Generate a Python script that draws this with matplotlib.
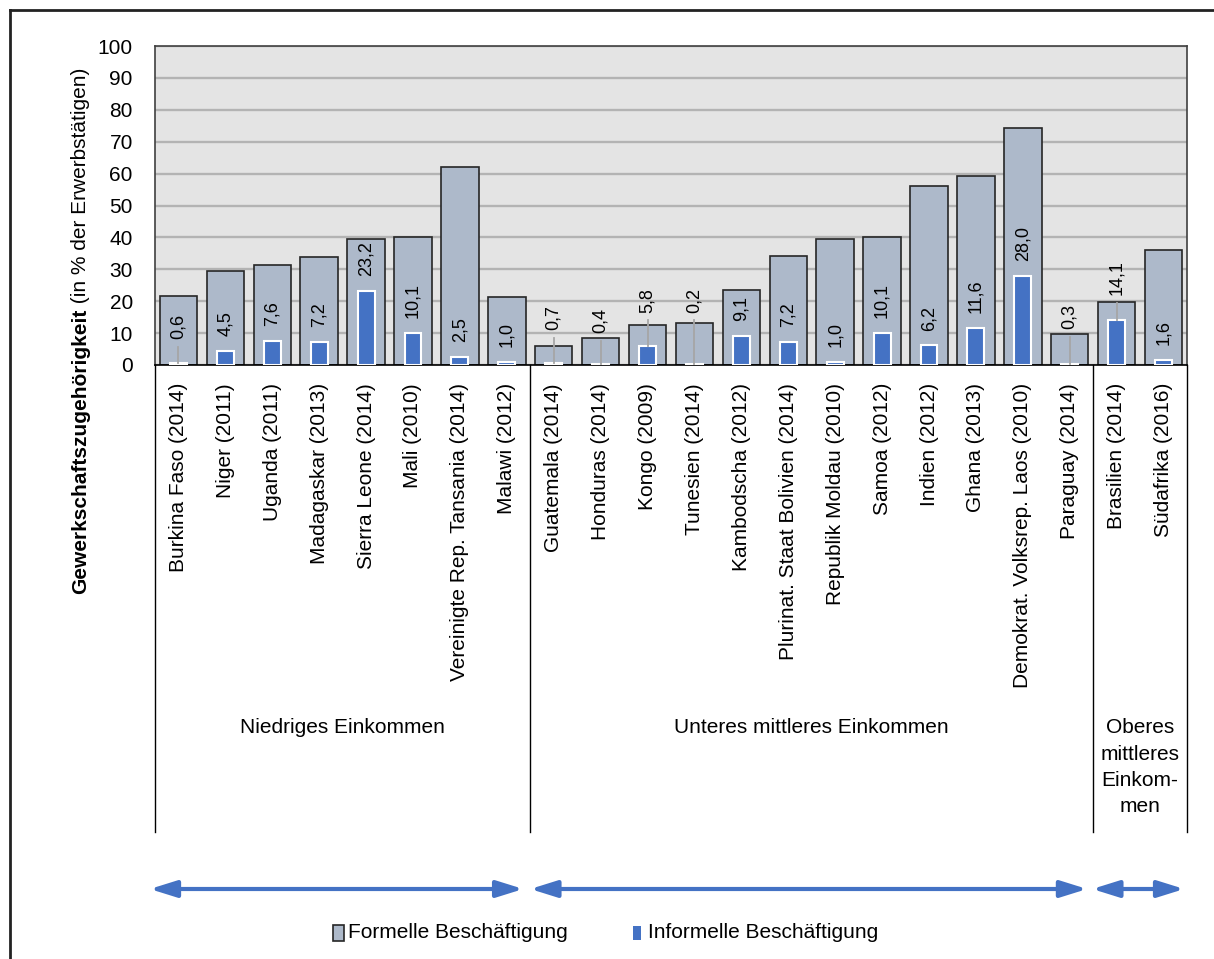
import matplotlib
matplotlib.use("Agg")
import matplotlib.pyplot as plt
import matplotlib.transforms as mtransforms
from matplotlib.patches import FancyArrowPatch, Rectangle
from matplotlib.lines import Line2D

plt.rcParams['font.family'] = ['Liberation Sans', 'DejaVu Sans']

# --- data -------------------------------------------------------------
countries = [
    "Burkina Faso (2014)", "Niger (2011)", "Uganda (2011)", "Madagaskar (2013)",
    "Sierra Leone (2014)", "Mali (2010)", "Vereinigte Rep. Tansania (2014)",
    "Malawi (2012)", "Guatemala (2014)", "Honduras (2014)", "Kongo (2009)",
    "Tunesien (2014)", "Kambodscha (2012)", "Plurinat. Staat Bolivien (2014)",
    "Republik Moldau (2010)", "Samoa (2012)", "Indien (2012)", "Ghana (2013)",
    "Demokrat. Volksrep. Laos (2010)", "Paraguay (2014)", "Brasilien (2014)",
    "Südafrika (2016)",
]
formal = [21.6, 29.5, 31.4, 34.0, 39.5, 40.0, 62.1, 21.2, 6.0, 8.6, 12.5,
          13.2, 23.5, 34.1, 39.5, 40.1, 56.2, 59.1, 74.3, 9.7, 19.8, 35.9]
informal = [0.6, 4.5, 7.6, 7.2, 23.2, 10.1, 2.5, 1.0, 0.7, 0.4, 5.8,
            0.2, 9.1, 7.2, 1.0, 10.1, 6.2, 11.6, 28.0, 0.3, 14.1, 1.6]
groups = ["Niedriges Einkommen", "Unteres mittleres Einkommen",
          "Oberes\nmittleres\nEinkom-\nmen"]
group_sizes = [8, 12, 2]
legend_labels = ["Formelle Beschäftigung", "Informelle Beschäftigung"]
y_ticks = list(range(0, 101, 10))

# value labels lifted above the bars and tied back with a leader line
leader_label_at = {0: 8.0, 8: 11.0, 9: 9.9, 10: 16.4, 11: 16.4, 19: 11.3, 20: 21.9}
label_gap = 4.6

# --- style ------------------------------------------------------------
C_FORMAL = "#ADB9CA"
C_INFORMAL = "#4472C4"
C_BG = "#E4E4E4"
C_GRID = "#B3B3B3"
FS = 15
FS_VAL = 13

W, H = 1214, 959
fig = plt.figure(figsize=(W / 100, H / 100), dpi=100)
ax = fig.add_axes([155 / W, 1 - 365 / H, 1032 / W, 319 / H])
ax.set_facecolor(C_BG)

x = list(range(len(countries)))
ax.bar(x, formal, width=0.8, color=C_FORMAL, edgecolor="#262626", lw=1.2, zorder=2)
ax.bar(x, informal, width=0.36, color=C_INFORMAL, edgecolor="white", lw=1.5, zorder=3)

for i, v in enumerate(informal):
    txt = f"{v:.1f}".replace(".", ",")
    if i in leader_label_at:
        base = leader_label_at[i]
        ax.plot([i, i], [v, base - 2.4], color="#A6A6A6", lw=1.3, zorder=4)
    else:
        base = v + label_gap
    ax.text(i, base, txt, rotation=90, ha="center", va="bottom",
            fontsize=FS_VAL, zorder=5)

ax.set_xlim(-0.5, len(countries) - 0.5)
ax.set_ylim(0, 100)
ax.set_yticks(y_ticks)
ax.yaxis.grid(True, color=C_GRID, lw=1.7)
ax.set_axisbelow(True)
ax.tick_params(axis="y", length=0, pad=16, labelsize=FS)
ax.set_xticks(x)
ax.set_xticklabels(countries, rotation=90, fontsize=FS)
ax.tick_params(axis="x", length=0, pad=13)
for side in ("top", "right", "left"):
    ax.spines[side].set_color("#404040")
    ax.spines[side].set_linewidth(1.2)
ax.spines["bottom"].set_color("black")
ax.spines["bottom"].set_linewidth(1.2)

# group separators and group names below the category labels
xfig = mtransforms.blended_transform_factory(ax.transData, fig.transFigure)
y_axis_bottom = 1 - 365 / H
y_sep_bottom = 1 - 832 / H
edges = [-0.5]
for n in group_sizes:
    edges.append(edges[-1] + n)
for e in edges:
    fig.add_artist(Line2D([e, e], [y_axis_bottom, y_sep_bottom], transform=xfig,
                          color="black", lw=1.0))
for name, lo, hi in zip(groups, edges[:-1], edges[1:]):
    fig.text((lo + hi) / 2, 1 - 718 / H, name, transform=xfig, ha="center",
             va="top", fontsize=FS, linespacing=1.5)

# double-headed arrows spanning each income group
arrow_spans = [(-0.61, 7.35), (7.50, 19.37), (19.48, 21.44)]
y_arrow = 1 - 889 / H
for a, b in arrow_spans:
    arr = FancyArrowPatch((a, y_arrow), (b, y_arrow), transform=xfig,
                          arrowstyle="<|-|>,head_length=16,head_width=5",
                          mutation_scale=1, color=C_INFORMAL, lw=3,
                          shrinkA=0, shrinkB=0)
    fig.add_artist(arr)

# legend
y_leg = 1 - 933 / H
fig.add_artist(Rectangle((333 / W, y_leg - 8 / H), 11 / W, 16 / H,
                         transform=fig.transFigure, facecolor=C_FORMAL,
                         edgecolor="#262626", lw=1.2))
fig.text(348 / W, y_leg, legend_labels[0], ha="left", va="center", fontsize=FS)
fig.add_artist(Rectangle((633 / W, y_leg - 7 / H), 8 / W, 14 / H,
                         transform=fig.transFigure, facecolor=C_INFORMAL,
                         edgecolor="none"))
fig.text(648 / W, y_leg, legend_labels[1], ha="left", va="center", fontsize=FS)

# y-axis title: bold lead-in followed by regular unit text
fig.canvas.draw()
renderer = fig.canvas.get_renderer()
bx = 86 / W
t1 = fig.text(bx, 0, "Gewerkschaftszugehörigkeit", rotation=90,
              rotation_mode="anchor", ha="left", va="baseline",
              fontsize=FS, fontweight="bold")
t2 = fig.text(bx, 0, " (in % der Erwerbstätigen)", rotation=90,
              rotation_mode="anchor", ha="left", va="baseline", fontsize=FS)
h1 = t1.get_window_extent(renderer).height
h2 = t2.get_window_extent(renderer).height
center_px = H - 331
start = center_px - (h1 + h2) / 2
t1.set_y(start / H)
t2.set_y((start + h1) / H)

# outer frame
fig.add_artist(Line2D([10 / W, 10 / W], [0, 1 - 10 / H], transform=fig.transFigure,
                      color="#222222", lw=2))
fig.add_artist(Line2D([10 / W, 1], [1 - 10 / H, 1 - 10 / H], transform=fig.transFigure,
                      color="#222222", lw=2))

fig.savefig("out.png", dpi=100, facecolor="white")
